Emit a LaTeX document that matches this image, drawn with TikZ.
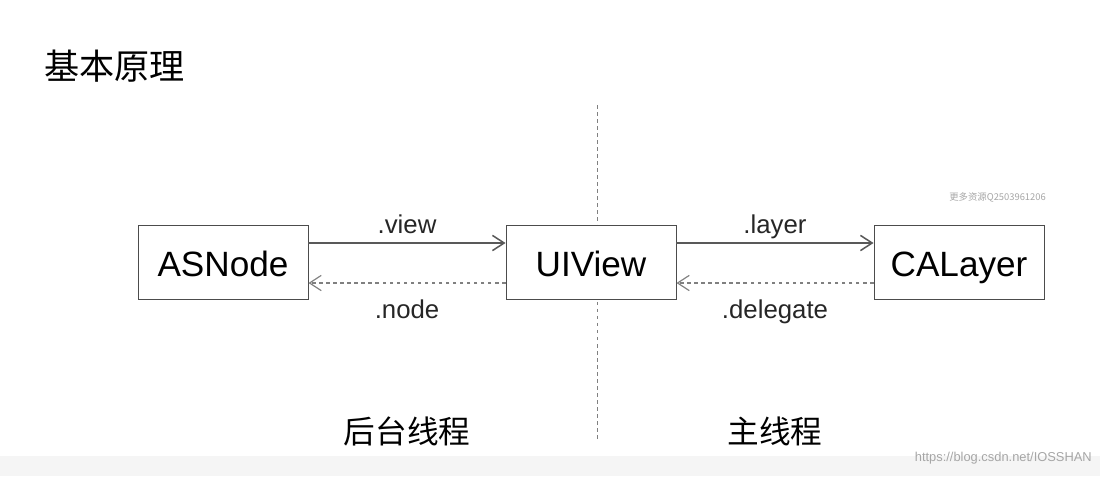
\documentclass[tikz,border=0pt]{standalone}
\usepackage{fontspec}
\setmainfont{Liberation Sans}
\newfontfamily\cjk{Noto Sans CJK SC}
\usetikzlibrary{arrows.meta}
\begin{document}
\begin{tikzpicture}[x=0.03cm,y=-0.03cm,
  box/.style={draw=black!70,fill=white,line width=0.8pt,minimum width=170*0.03cm,minimum height=74*0.03cm,inner sep=0pt,text height=1.05cm,text depth=0.2cm,font=\fontsize{30}{32}\selectfont},
  lbl/.style={font=\fontsize{22}{24}\selectfont,text=black!85,inner sep=0pt,text height=0.5cm,text depth=0.12cm},
  arr/.style={->,>={Straight Barb[length=10pt,width=13pt]},draw=black!65,line width=1.3pt},
  back/.style={arr,dashed,draw=black!50,line width=1pt},
  wmark/.style={text=black!35,inner sep=0pt}]
\useasboundingbox (0,0) rectangle (1100,476);
\fill[black!4] (0,456) rectangle (1100,476);
\node[anchor=west,font=\cjk\fontsize{30}{32}\selectfont] (title) at (40,66) {基本原理};
\coordinate (top) at (597,105);
\coordinate (bot) at (597,442);
\draw[dashed,black!50,line width=0.8pt] (top) -- (bot);
\node[box] (as) at (223,262) {ASNode};
\node[box] (ui) at (591,262) {UIView};
\node[box] (ca) at (959,262) {CALayer};
\draw[arr] ([yshift=0.57cm]as.east) -- ([yshift=0.57cm]ui.west) node[midway,above=0.15cm,lbl] {.view};
\draw[back] ([yshift=-0.63cm]ui.west) -- ([yshift=-0.63cm]as.east) node[midway,below=0.55cm,lbl] {.node};
\draw[arr] ([yshift=0.57cm]ui.east) -- ([yshift=0.57cm]ca.west) node[midway,above=0.15cm,lbl] {.layer};
\draw[back] ([yshift=-0.63cm]ca.west) -- ([yshift=-0.63cm]ui.east) node[midway,below=0.55cm,lbl] {.delegate};
\node[font=\cjk\fontsize{27}{29}\selectfont] (bg) at (407,431) {后台线程};
\node[font=\cjk\fontsize{27}{29}\selectfont] (mt) at (775,431) {主线程};
\node[wmark,anchor=east,font=\cjk\fontsize{8}{9}\selectfont] (w1) at (1046,197) {更多资源Q2503961206};
\node[wmark,anchor=east,font=\fontsize{11}{12}\selectfont] (w2) at (1092,458) {https://blog.csdn.net/IOSSHAN};
\end{tikzpicture}
\end{document}
